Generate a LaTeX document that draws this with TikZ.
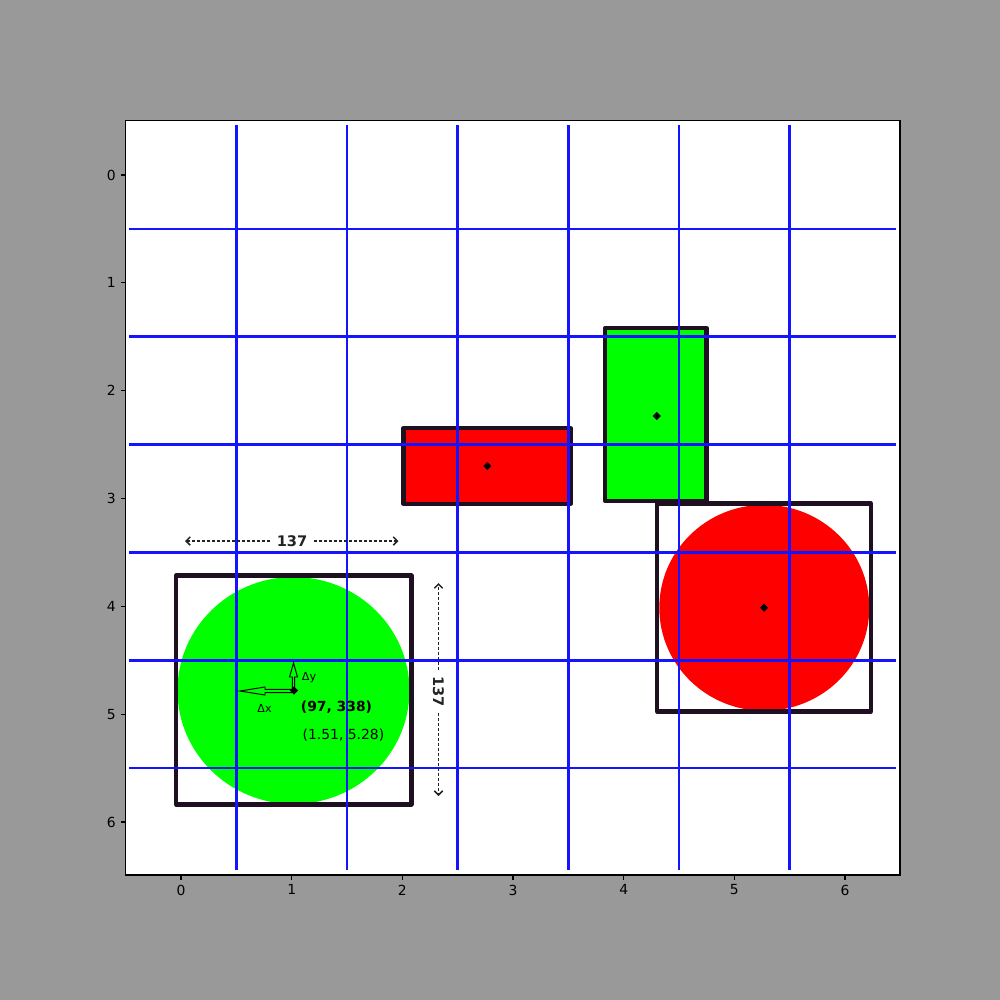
\documentclass[tikz,border=0pt]{standalone}
\usepackage{fontspec}
\setmainfont{DejaVu Sans}
\usetikzlibrary{arrows.meta,positioning,shapes.geometric}
\definecolor{figgray}{RGB}{153,153,153}
\definecolor{edgec}{RGB}{30,16,32}
\definecolor{pgreen}{RGB}{0,255,0}
\definecolor{pred}{RGB}{255,0,0}
\definecolor{dimc}{RGB}{35,35,35}
\definecolor{gblue}{RGB}{20,20,255}
\tikzset{gline/.style={draw=gblue,line width=1.9pt},
  outline/.style={draw=edgec,line width=2.9pt,line join=round},
  ctr/.style={diamond,fill=black,inner sep=0pt,minimum size=6pt},
  dimline/.style={dimc,line width=1.1pt,dash pattern=on 2.2pt off 1.4pt,-{Straight Barb[length=3pt,width=6pt]}},
  dimlab/.style={font=\bfseries\fontsize{10.5}{12}\selectfont,text=dimc,inner sep=4.5pt},
  hollow/.style={black,line width=0.7pt,line join=miter},
  tick/.style={line width=0.8pt},
  ticklab/.style={font=\fontsize{10}{12}\selectfont,inner sep=0pt}}
\begin{document}
\begin{tikzpicture}[x=0.72pt,y=-0.72pt]
\fill[figgray] (0,0) rectangle (1000,1000);
\useasboundingbox (0,0) rectangle (1000,1000);
\fill[white] (125.5,120.5) rectangle (900,875);
% filled shapes
\path[fill=pgreen] (293.5,690.5) ellipse [x radius=116, y radius=113.5];
\path[fill=pred] (403.5,428) rectangle (570.5,504);
\path[fill=pgreen] (605,328) rectangle (706.5,501);
\path[fill=pred] (764.3,607.8) ellipse [x radius=105, y radius=103];
% boxes
\draw[outline] (176,575.5) rectangle (411.5,804.5);
\draw[outline] (403.5,428) rectangle (570.5,504);
\draw[outline] (605,328) rectangle (706.5,501);
\draw[outline] (657,503.5) rectangle (871,711.5);
% grid
\begin{scope}
\foreach \i in {0,...,5}{
  \draw[gline] ({181+110.67*(\i+0.5)},125) -- ({181+110.67*(\i+0.5)},870);
  \draw[gline] (129,{175+107.83*(\i+0.5)}) -- (896,{175+107.83*(\i+0.5)});
}
\end{scope}
\node[ctr] (cA) at (294,690.5) {};
\node[ctr] (cB) at (487.3,466) {};
\node[ctr] (cC) at (656.7,416) {};
\node[ctr] (cD) at (764,607.7) {};
% offsets
\draw[hollow] (294,689.3) -- (265,689.3) -- (265,687) -- (240,691) -- (265,695) -- (265,692.7) -- (294,692.7);
\draw[hollow] (292.3,690) -- (292.3,677) -- (289.5,677) -- (293.5,663) -- (297.5,677) -- (294.7,677) -- (294.7,690);
\node[font=\fontsize{8}{10}\selectfont,inner sep=0pt] (dy) at (309,678) {Δy};
\node[font=\fontsize{8}{10}\selectfont,inner sep=0pt] (dx) at (264.5,708.5) {Δx};
\node[font=\bfseries\fontsize{10}{12}\selectfont,inner sep=0pt] (pix) at (336.5,707) {(97, 338)};
\node[font=\fontsize{10}{12}\selectfont,inner sep=0pt] (dat) at (343.5,735) {(1.51, 5.28)};
% dimensions
\coordinate (wl) at (185,541); \coordinate (wr) at (398.5,541);
\node[dimlab] (wd) at (292,541) {137};
\draw[dimline] (wd.west) -- (wl);
\draw[dimline] (wd.east) -- (wr);
\coordinate (ht) at (438.5,583); \coordinate (hb) at (438.5,796);
\node[dimlab,rotate=-90] (hd) at (438.5,691.5) {137};
\draw[dimline] (hd.west) -- (ht);
\draw[dimline] (hd.east) -- (hb);
% axes
\draw[line width=0.8pt] (125.5,120.5) rectangle (900,875);
\foreach \i in {0,...,6}{
  \draw[tick] ({181+110.67*\i},875) -- ({181+110.67*\i},880);
  \node[ticklab,anchor=north] (xt\i) at ({181+110.67*\i},884.5) {\i};
  \draw[tick] (125.5,{175+107.83*\i}) -- (120.5,{175+107.83*\i});
  \node[ticklab,anchor=east] (yt\i) at (116,{175+107.83*\i}) {\i};
}
\end{tikzpicture}
\end{document}
